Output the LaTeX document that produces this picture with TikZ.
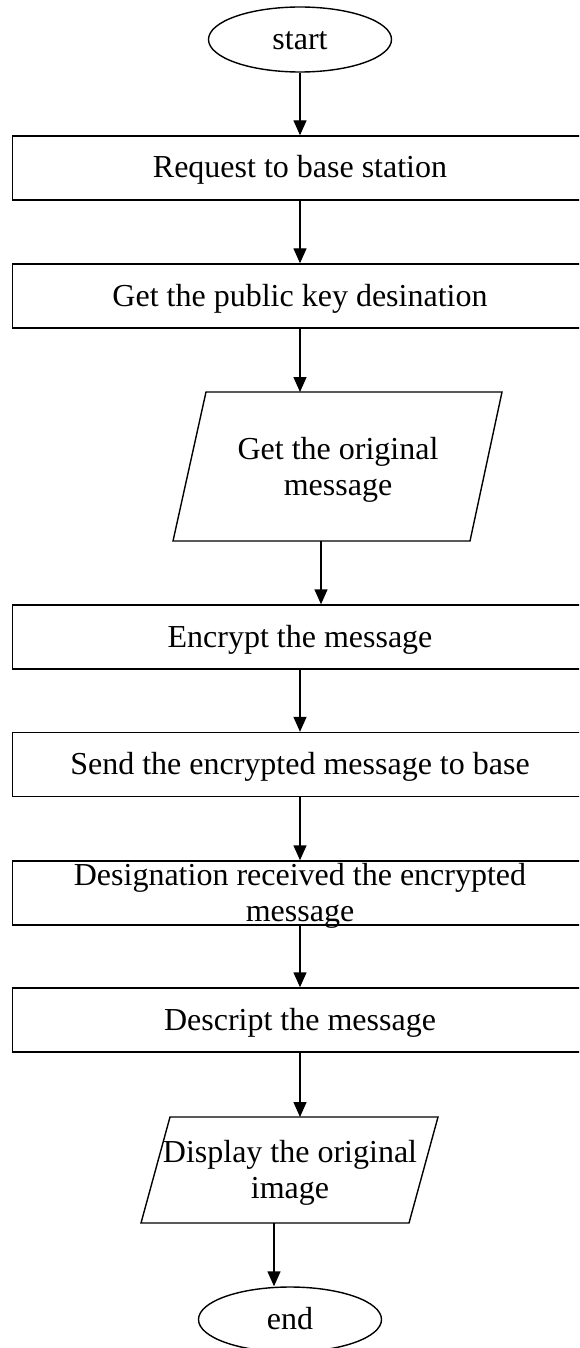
\documentclass[tikz,border=0pt]{standalone}
\usepackage{fontspec}
\setmainfont{Liberation Serif}
\usetikzlibrary{arrows.meta,shapes.geometric}

\tikzset{
  txt/.style={font=\fontsize{32}{36}\selectfont, align=center, inner sep=0pt},
  line/.style={line width=1.4pt},
  termbox/.style={txt, line, draw, ellipse, minimum width=183pt, minimum height=65pt,
                  text height=20pt, text depth=0pt},
  stepbox/.style={txt, line, draw, rectangle, minimum width=574.6pt, minimum height=64pt,
                  text height=20pt, text depth=0pt},
  flow/.style={line, -{Triangle[length=15pt,width=13pt]}}
}

\begin{document}
\begin{tikzpicture}[x=1pt,y=-1pt]
  \useasboundingbox (0,0) rectangle (579,1348);
  \fill[white] (0,0) rectangle (579,1348);
  \clip (0,0) rectangle (579,1348);

  % terminals and process boxes
  \node[termbox] (start) at (300,39.5) {start};
  \node[stepbox] (box1) at (300,168) {Request to base station};
  \node[stepbox] (box2) at (300,296) {Get the public key desination};
  \node[stepbox] (box3) at (300,637) {Encrypt the message};
  \node[stepbox] (box4) at (300,764.5) {Send the encrypted message to base};
  \node[stepbox] (box5) at (300,893) {};
  \node[txt, anchor=north] (box5txt) at (300,863) {Designation received the encrypted\\message};
  \node[stepbox] (box6) at (300,1020) {Descript the message};
  \node[termbox] (end) at (290,1319.5) {end};

  % input / output blocks
  \coordinate (p1tl) at (206,392);
  \coordinate (p1tr) at (502,392);
  \coordinate (p1br) at (470,541);
  \coordinate (p1bl) at (173,541);
  \draw[line] (p1tl) -- (p1tr) -- (p1br) -- (p1bl) -- cycle;
  \node[txt, anchor=north] (para1) at (338,436.6) {Get the original\\message};
  \coordinate (p1in) at (300,392);
  \coordinate (p1out) at (321,541);

  \coordinate (p2tl) at (170,1117);
  \coordinate (p2tr) at (438,1117);
  \coordinate (p2br) at (409,1223);
  \coordinate (p2bl) at (141,1223);
  \draw[line] (p2tl) -- (p2tr) -- (p2br) -- (p2bl) -- cycle;
  \node[txt, anchor=north] (para2) at (290,1140) {Display the original\\image};
  \coordinate (p2in) at (300,1117);
  \coordinate (p2out) at (274,1223);

  % flow connectors
  \draw[flow] (start.south) -- (box1.north);
  \draw[flow] (box1.south) -- (box2.north);
  \draw[flow] (box2.south) -- (p1in);
  \draw[flow] (p1out) -- (p1out |- box3.north);
  \draw[flow] (box3.south) -- (box4.north);
  \draw[flow] (box4.south) -- (box5.north);
  \draw[flow] (box5.south) -- (box6.north);
  \draw[flow] (box6.south) -- (p2in);
  \draw[flow] (p2out) -- (p2out |- end.north);
\end{tikzpicture}
\end{document}
